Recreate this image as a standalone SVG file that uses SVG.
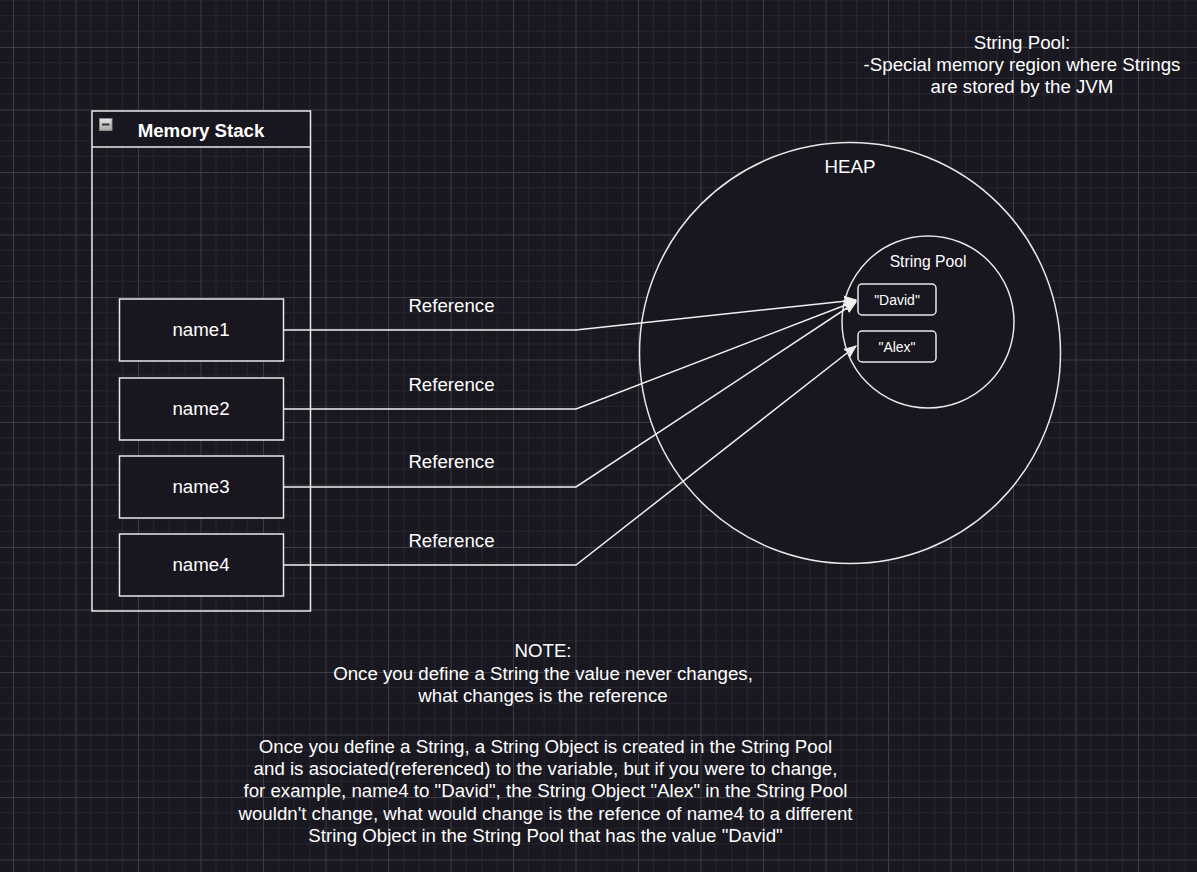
<svg xmlns="http://www.w3.org/2000/svg" width="1197" height="872" viewBox="0 0 1197 872">
  <defs>
    <pattern id="grid" patternUnits="userSpaceOnUse" x="13" y="47" width="62.5" height="62.5">
      <rect width="62.5" height="62.5" fill="#19171f"/>
      <path d="M15.625 0V62.5M31.25 0V62.5M46.875 0V62.5M0 15.625H62.5M0 31.25H62.5M0 46.875H62.5" stroke="#28262e" stroke-width="1" fill="none"/>
      <path d="M0.5 0V62.5M0 0.5H62.5" stroke="#3c3a42" stroke-width="1" fill="none"/>
    </pattern>
    <marker id="arrow" markerUnits="userSpaceOnUse" markerWidth="14" markerHeight="12" refX="12" refY="5" orient="auto" viewBox="0 0 14 10">
      <path d="M0,0 L12,5 L0,10 L3,5 Z" fill="#f0f0f0" stroke="#f0f0f0" stroke-width="1"/>
    </marker>
    <linearGradient id="icon" x1="0" y1="0" x2="0" y2="1">
      <stop offset="0" stop-color="#e6e6e6"/>
      <stop offset="1" stop-color="#a8a8a8"/>
    </linearGradient>
  </defs>
  <style>
    text { font-family: "Liberation Sans", Arial, Helvetica, sans-serif; fill: #ffffff; text-anchor: middle; }
    .box { fill: #18161e; stroke: #e8e8e8; stroke-width: 1.5; }
    .edge { fill: none; stroke: #f0f0f0; stroke-width: 1.5; marker-end: url(#arrow); }
    .lbl { font-size: 18.7px; }
    .small { font-size: 14px; }
  </style>

  <rect x="0" y="0" width="1197" height="872" fill="url(#grid)"/>

  <g id="heap">
    <circle cx="850" cy="353" r="210.5" class="box"/>
    <text x="850" y="173" class="lbl">HEAP</text>
  </g>

  <g id="string-pool">
    <circle cx="928" cy="322" r="86" class="box"/>
    <text x="928" y="267" font-size="15.7">String Pool</text>
  </g>

  <g id="david">
    <rect x="858" y="284" width="78" height="31" rx="4" class="box"/>
    <text x="897" y="305" class="small">"David"</text>
  </g>

  <g id="alex">
    <rect x="858" y="331" width="78" height="31" rx="4" class="box"/>
    <text x="897" y="351.5" class="small">"Alex"</text>
  </g>

  <g id="memory-stack">
    <rect x="92" y="111" width="218.5" height="36" fill="#18161e"/>
    <rect x="92" y="111" width="218.5" height="500" fill="none" stroke="#e8e8e8" stroke-width="1.5"/>
    <line x1="92" y1="147" x2="310.5" y2="147" stroke="#e8e8e8" stroke-width="1.5"/>
    <rect x="99.5" y="118.5" width="12.5" height="12" fill="url(#icon)" stroke="#8a8a8a" stroke-width="1"/>
    <line x1="102" y1="124.5" x2="109.5" y2="124.5" stroke="#333" stroke-width="2"/>
    <text x="201" y="137" class="lbl" font-weight="bold">Memory Stack</text>
  </g>

  <g id="name1">
    <rect x="119.5" y="299" width="164" height="62" class="box"/>
    <text x="201" y="336" class="lbl">name1</text>
  </g>
  <g id="name2">
    <rect x="119.5" y="378" width="164" height="62" class="box"/>
    <text x="201" y="415" class="lbl">name2</text>
  </g>
  <g id="name3">
    <rect x="119.5" y="456" width="164" height="62" class="box"/>
    <text x="201" y="493" class="lbl">name3</text>
  </g>
  <g id="name4">
    <rect x="119.5" y="534" width="164" height="62" class="box"/>
    <text x="201" y="571" class="lbl">name4</text>
  </g>

  <g id="connectors">
    <polyline class="edge" points="283.5,330 576,330 856,300"/>
    <polyline class="edge" points="283.5,409 576,409 856,301"/>
    <polyline class="edge" points="283.5,487 576,487 856,302"/>
    <polyline class="edge" points="283.5,565 576,565 856,346"/>
    <text x="451.5" y="312" class="lbl">Reference</text>
    <text x="451.5" y="391" class="lbl">Reference</text>
    <text x="451.5" y="468" class="lbl">Reference</text>
    <text x="451.5" y="547" class="lbl">Reference</text>
  </g>

  <g id="pool-note">
    <text x="1022" y="49" class="lbl">String Pool:</text>
    <text x="1022" y="71" class="lbl">-Special memory region where Strings</text>
    <text x="1022" y="93" class="lbl">are stored by the JVM</text>
  </g>

  <g id="note">
    <text x="543" y="657" class="lbl">NOTE:</text>
    <text x="543" y="680" class="lbl">Once you define a String the value never changes,</text>
    <text x="543" y="702" class="lbl">what changes is the reference</text>
    <text x="545.5" y="753" class="lbl">Once you define a String, a String Object is created in the String Pool</text>
    <text x="545.5" y="775" class="lbl">and is asociated(referenced) to the variable, but if you were to change,</text>
    <text x="545.5" y="797" class="lbl">for example, name4 to "David", the String Object "Alex" in the String Pool</text>
    <text x="545.5" y="820" class="lbl">wouldn't change, what would change is the refence of name4 to a different</text>
    <text x="545.5" y="842" class="lbl">String Object in the String Pool that has the value "David"</text>
  </g>
</svg>
